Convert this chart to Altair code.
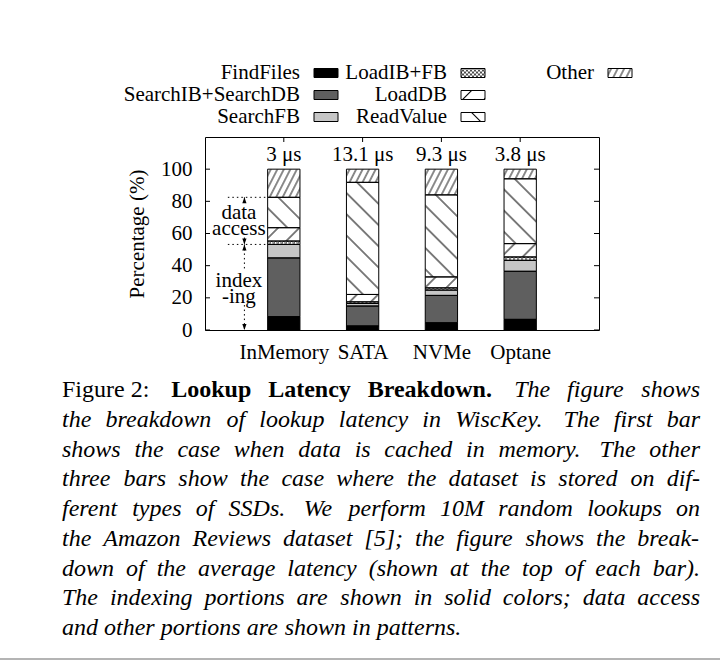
import json
import base64
import altair as alt
import pandas as pd

# ---------------- data ----------------
categories = ["InMemory", "SATA", "NVMe", "Optane"]
latency_labels = ["3 μs", "13.1 μs", "9.3 μs", "3.8 μs"]
components = ["FindFiles", "SearchIB+SearchDB", "SearchFB", "LoadIB+FB",
              "LoadDB", "ReadValue", "Other"]

find_files = [8.3, 2.5, 4.5, 6.6]
search_ib_db = [36.5, 12.4, 17.0, 29.9]
search_fb = [8.4, 1.6, 3.3, 6.8]
load_ib_fb = [2.1, 1.0, 1.4, 2.1]
load_db = [8.3, 4.6, 6.8, 8.3]
read_value = [18.9, 69.7, 51.0, 40.3]
other = [17.5, 8.2, 16.0, 6.0]

y_ticks = [0, 20, 40, 60, 80, 100]

caption_first = [("Figure 2:", "roman"), ("Lookup Latency Breakdown.", "bold"),
                 ("The figure shows", "italic")]
caption_lines = [
    "the breakdown of lookup latency in WiscKey.  The first bar",
    "shows the case when data is cached in memory.  The other",
    "three bars show the case where the dataset is stored on dif-",
    "ferent types of SSDs.  We perform 10M random lookups on",
    "the Amazon Reviews dataset [5]; the figure shows the break-",
    "down of the average latency (shown at the top of each bar).",
    "The indexing portions are shown in solid colors; data access",
    "and other portions are shown in patterns.",
]

series = dict(zip(components, [find_files, search_ib_db, search_fb, load_ib_fb,
                               load_db, read_value, other]))

# ---------------- styles ----------------
FONT = "Liberation Serif"
PLOT_W, PLOT_H = 394, 193
HALF = 0.205
fills = ["#000000", "#5f5f5f", "#c6c6c6", "#ffffff", "#ffffff", "#ffffff", "#ffffff"]


def pattern_url(body, size, transform=""):
    svg = ('<svg xmlns="http://www.w3.org/2000/svg" width="100%" height="100%">'
           f'<defs><pattern id="p" width="{size}" height="{size}" patternUnits="userSpaceOnUse" '
           f'{transform}>{body}</pattern></defs>'
           '<rect width="100%" height="100%" fill="#ffffff"/>'
           '<rect width="100%" height="100%" fill="url(#p)"/></svg>')
    return "data:image/svg+xml;base64," + base64.b64encode(svg.encode()).decode()


def line_pattern(spacing, angle, width=1.0):
    body = (f'<line x1="{spacing/2}" y1="-2" x2="{spacing/2}" y2="{spacing+2}" '
            f'stroke="#000" stroke-width="{width}"/>')
    return pattern_url(body, spacing, f'patternTransform="rotate({angle})"')


patterns = {
    "LoadIB+FB": pattern_url('<path d="M0,0L4,4M4,0L0,4" stroke="#000" stroke-width="0.7"/>', 4),
    "LoadDB": line_pattern(15, 45),
    "ReadValue": line_pattern(15, -45),
    "Other": line_pattern(5.8, 27, 0.9),
}
patterned = list(patterns.keys())

# ---------------- tables ----------------
rows = []
for i, cat in enumerate(categories):
    base = 0.0
    for comp in components:
        v = series[comp][i]
        rows.append(dict(category=cat, pos=i + 1, component=comp, value=v,
                         y0=base, y1=base + v, x0=i + 1 - HALF, x1=i + 1 + HALF,
                         url=patterns.get(comp, "")))
        base += v
bars = pd.DataFrame(rows)

tops = bars.groupby("pos", as_index=False)["y1"].max()
lat_df = pd.DataFrame({"pos": tops["pos"], "top": tops["y1"], "label": latency_labels})

inmem = bars[bars.category == categories[0]].set_index("component")
acc_top = inmem.loc["ReadValue", "y1"]
acc_bot = inmem.loc["SearchFB", "y1"]

xscale = alt.Scale(domain=[0, 5], nice=False, zero=False)
yscale = alt.Scale(domain=[0, 120], nice=False, zero=True)

xaxis = alt.Axis(values=[1, 2, 3, 4], labelExpr=f"{json.dumps(categories)}[datum.value - 1]",
                 title=None, domain=False, ticks=False, grid=False, labelPadding=11,
                 labelOverlap=False, labelFont=FONT, labelFontSize=21, labelColor="black")
yaxis = alt.Axis(values=y_ticks, title="Percentage (%)", domain=False, ticks=False, grid=False,
                 labelPadding=13, titlePadding=13, labelOverlap=False, labelFont=FONT,
                 labelFontSize=21, labelColor="black", titleFont=FONT, titleFontSize=21,
                 titleFontWeight="normal", titleColor="black")

color = alt.Color("component:N", scale=alt.Scale(domain=components, range=fills), legend=None)

bar_fill = alt.Chart(bars).mark_bar(strokeWidth=0).encode(
    x=alt.X("x0:Q", scale=xscale, axis=xaxis), x2="x1:Q",
    y=alt.Y("y0:Q", scale=yscale, axis=yaxis), y2="y1:Q", color=color)

bar_img = alt.Chart(bars).transform_filter(
    alt.FieldOneOfPredicate(field="component", oneOf=patterned)
).mark_image(aspect=False).encode(
    x="x0:Q", x2="x1:Q", y="y0:Q", y2="y1:Q", url="url:N")

bar_line = alt.Chart(bars).mark_bar(fillOpacity=0, stroke="black", strokeWidth=1).encode(
    x="x0:Q", x2="x1:Q", y="y0:Q", y2="y1:Q")

lat_text = alt.Chart(lat_df).mark_text(font=FONT, fontSize=21, baseline="alphabetic", dy=-8,
                                       color="black").encode(
    x="pos:Q", y="top:Q", text="label:N")

# inward ticks (gnuplot style)
tick_df = pd.DataFrame({"v": y_ticks})
ticks_left = alt.Chart(tick_df).mark_rule(color="black", strokeWidth=1).encode(
    y="v:Q", x=alt.value(0), x2=alt.value(5))
ticks_right = alt.Chart(tick_df).mark_rule(color="black", strokeWidth=1).encode(
    y="v:Q", x=alt.value(PLOT_W), x2=alt.value(PLOT_W - 5))
ticks_top = alt.Chart(lat_df).mark_rule(color="black", strokeWidth=1).encode(
    x="pos:Q", y=alt.value(0), y2=alt.value(5))

# annotation: data access / indexing
vert_df = pd.DataFrame({"x": [0.5] * 4, "ya": [acc_top, 57.5, acc_bot, 15.5],
                        "yb": [79.0, acc_bot, 36.5, 0.0]})
hor_df = pd.DataFrame({"xa": [0.29, 0.29], "xb": [1 - HALF, 1 - HALF], "y": [acc_top, acc_bot]})
head_df = pd.DataFrame({"x": [0.5] * 4, "y": [acc_top, acc_bot, acc_bot, 0.0],
                        "shape": ["M0,0L-0.35,1L0.35,1Z", "M0,0L-0.35,-1L0.35,-1Z",
                                  "M0,0L-0.35,1L0.35,1Z", "M0,0L-0.35,-1L0.35,-1Z"]})
ann_text_df = pd.DataFrame({"x": [0.43] * 4, "y": [73.0, 62.5, 30.3, 20.4],
                            "t": ["data", "access", "index", "-ing"]})

ann_vert = alt.Chart(vert_df).mark_rule(color="black", strokeWidth=1, strokeDash=[1.5, 3]).encode(
    x="x:Q", y="ya:Q", y2="yb:Q")
ann_hor = alt.Chart(hor_df).mark_rule(color="black", strokeWidth=1, strokeDash=[1.5, 3]).encode(
    x="xa:Q", x2="xb:Q", y="y:Q")
ann_heads = alt.Chart(head_df).mark_point(filled=True, size=144, color="black", opacity=1,
                                          strokeWidth=0).encode(
    x="x:Q", y="y:Q", shape=alt.Shape("shape:N", scale=None))
ann_text = alt.Chart(ann_text_df).mark_text(font=FONT, fontSize=21, baseline="middle",
                                            align="center", color="black").encode(
    x="x:Q", y="y:Q", text="t:N")

# legend (3 columns, drawn above the frame)
leg_label_right = [95, 242, 389]
leg_row_y = [-64, -42, -20]
leg_cols = [components[0:3], components[3:6], components[6:7]]
leg_rows = []
for c, comps in enumerate(leg_cols):
    for r, comp in enumerate(comps):
        lx = leg_label_right[c]
        ly = leg_row_y[r]
        leg_rows.append(dict(component=comp, lx=lx, ly=ly, sx0=lx + 14, sx1=lx + 38,
                             sy0=ly - 4.5, sy1=ly + 4.5, url=patterns.get(comp, "")))
leg_df = pd.DataFrame(leg_rows)

leg_text = alt.Chart(leg_df).mark_text(font=FONT, fontSize=21, align="right", baseline="middle",
                                       color="black").encode(
    x=alt.X("lx:Q", scale=None), y=alt.Y("ly:Q", scale=None), text="component:N")
leg_fill = alt.Chart(leg_df).mark_rect(strokeWidth=0).encode(
    x=alt.X("sx0:Q", scale=None), x2="sx1:Q", y=alt.Y("sy0:Q", scale=None), y2="sy1:Q",
    color=color)
leg_img = alt.Chart(leg_df).transform_filter(
    alt.FieldOneOfPredicate(field="component", oneOf=patterned)
).mark_image(aspect=False).encode(
    x=alt.X("sx0:Q", scale=None), x2="sx1:Q", y=alt.Y("sy0:Q", scale=None), y2="sy1:Q",
    url="url:N")
leg_line = alt.Chart(leg_df).mark_rect(fillOpacity=0, stroke="black", strokeWidth=1).encode(
    x=alt.X("sx0:Q", scale=None), x2="sx1:Q", y=alt.Y("sy0:Q", scale=None), y2="sy1:Q")

# ---------------- caption (justified word by word) ----------------
CAP_SIZE = 24
CAP_LEFT, CAP_RIGHT = -143, 495          # relative to plot origin
CAP_Y0, CAP_STEP = 260, 29.75

_ital = dict(zip("abcdefghijklmnopqrstuvwxyz",
                 [500, 500, 444, 500, 444, 278, 500, 500, 278, 278, 444, 278, 722,
                  500, 500, 500, 500, 389, 389, 278, 500, 444, 667, 444, 444, 389]))
_ital.update(dict(zip("ABCDEFGHIJKLMNOPQRSTUVWXYZ",
                      [611, 611, 667, 722, 611, 611, 722, 722, 333, 444, 667, 556, 833,
                       667, 722, 611, 722, 611, 500, 556, 722, 611, 833, 611, 556, 556])))
_ital.update({".": 250, ",": 250, ":": 333, ";": 333, "-": 333, "(": 333, ")": 333,
              "[": 389, "]": 389, " ": 250})
_bold = dict(zip("LokupatencyBrdw. ", [667, 500, 556, 556, 556, 500, 333, 444, 556, 444,
                                       500, 667, 444, 556, 722, 250, 250]))
_roman = dict(zip("Figure2: ", [556, 278, 500, 500, 333, 444, 500, 278, 250]))
METRICS = {"italic": _ital, "bold": _bold, "roman": _roman}


def word_width(word, style):
    table = METRICS[style]
    return sum(table.get(ch, 500) for ch in word) * CAP_SIZE / 1000.0


def layout_line(words, justify):
    widths = [word_width(w, s) for w, s in words]
    weights = [1.3 if w.endswith((".", ":")) else 1.0 for w, _ in words[:-1]]
    if justify:
        unit = (CAP_RIGHT - CAP_LEFT - sum(widths)) / sum(weights)
    else:
        unit = 0.25 * CAP_SIZE
    xs, x = [], CAP_LEFT
    for k, wd in enumerate(widths):
        xs.append(x)
        if k < len(weights):
            x += wd + unit * weights[k]
    return xs


def split_chunk(chunk, style):
    # the figure label stays one unit; other chunks break at spaces
    return [chunk] if style == "roman" else chunk.split()


cap_words = []
all_lines = [[(w, s) for chunk, s in caption_first for w in split_chunk(chunk, s)]]
all_lines += [[(w, "italic") for w in line.split()] for line in caption_lines]
for k, words in enumerate(all_lines):
    xs = layout_line(words, justify=(k < len(all_lines) - 1))
    for (w, s), x in zip(words, xs):
        cap_words.append(dict(t=w, style=s, x=x, y=CAP_Y0 + CAP_STEP * k))
cap_df = pd.DataFrame(cap_words)


def cap_layer(style, **kw):
    return alt.Chart(cap_df).transform_filter(alt.datum.style == style).mark_text(
        font=FONT, fontSize=CAP_SIZE, baseline="alphabetic", align="left", color="black", **kw
    ).encode(x=alt.X("x:Q", scale=None), y=alt.Y("y:Q", scale=None), text="t:N")


caption = [cap_layer("roman"), cap_layer("bold", fontWeight="bold"),
           cap_layer("italic", fontStyle="italic")]

bottom_rule = alt.Chart(tick_df).mark_rule(color="#b4b4b4", strokeWidth=2).encode(
    x=alt.value(-205), x2=alt.value(515), y=alt.value(522))

chart = alt.layer(
    bar_fill, bar_img, bar_line, ticks_left, ticks_right, ticks_top, lat_text,
    ann_vert, ann_hor, ann_heads, ann_text,
    leg_text, leg_fill, leg_img, leg_line, *caption, bottom_rule
).properties(
    width=PLOT_W, height=PLOT_H,
    autosize=alt.AutoSizeParams(type="none"),
    padding={"left": 205, "top": 137, "right": 121, "bottom": 332},
    background="white",
).configure_view(
    stroke="black", strokeWidth=1
).configure_axis(
    labelOverlap=False, labelBound=False, labelFlush=False
).configure_axisY(
    labelOverlap=False, tickCount=6
)

chart.save("out.html", embed_options={"renderer": "svg", "actions": False})
